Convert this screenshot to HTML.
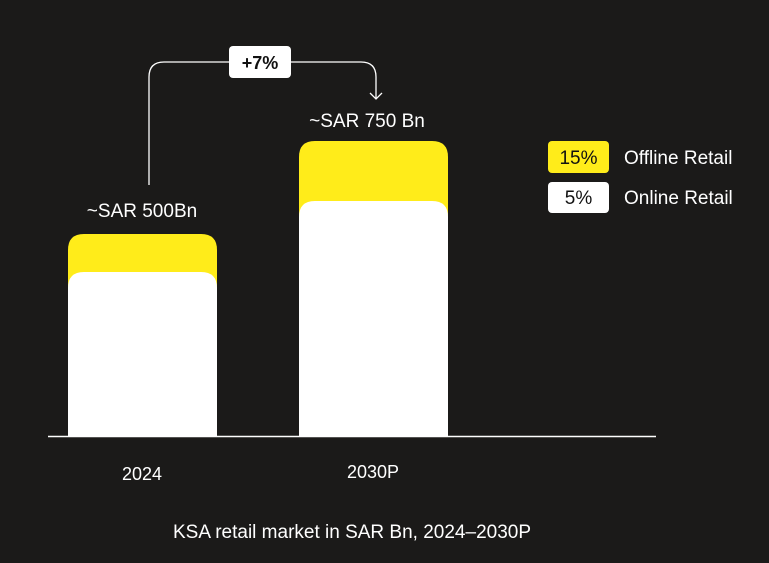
<!DOCTYPE html>
<html><head><style>
body{margin:0;background:#1b1a19;}
svg{display:block}
text{font-family:"Liberation Sans",sans-serif;}
</style></head><body>
<svg width="769" height="563" viewBox="0 0 769 563">
<rect width="769" height="563" fill="#1b1a19"/>
<path d="M68 436 V250 Q68 234 84 234 H201 Q217 234 217 250 V436 Z" fill="#ffec1a"/>
<path d="M68 436 V288 Q68 272 84 272 H201 Q217 272 217 288 V436 Z" fill="#fff"/>
<path d="M299 436 V157 Q299 141 315 141 H432 Q448 141 448 157 V436 Z" fill="#ffec1a"/>
<path d="M299 436 V217 Q299 201 315 201 H432 Q448 201 448 217 V436 Z" fill="#fff"/>
<line x1="48" y1="436.5" x2="656" y2="436.5" stroke="#fff" stroke-width="1.5"/>
<path d="M149 185 V77 Q149 62 164 62 H229 M291 62 H361 Q376 62 376 77 V99" fill="none" stroke="#fff" stroke-width="1.3"/>
<path d="M370 93 L376 99 L382 93" fill="none" stroke="#fff" stroke-width="1.3"/>
<rect x="229" y="46" width="62" height="32" rx="4" fill="#fff"/>
<text x="260" y="69" font-size="18" font-weight="bold" text-anchor="middle" fill="#111">+7%</text>
<text x="142" y="217" font-size="19" text-anchor="middle" fill="#fff">~SAR 500Bn</text>
<text x="367" y="127" font-size="19" text-anchor="middle" fill="#fff">~SAR 750 Bn</text>
<rect x="548" y="141" width="61" height="32" rx="4" fill="#ffec1a"/>
<text x="578.5" y="164" font-size="19" text-anchor="middle" fill="#111">15%</text>
<text x="624" y="164" font-size="19" fill="#fff">Offline Retail</text>
<rect x="548" y="182" width="61" height="31" rx="4" fill="#fff"/>
<text x="578.5" y="204" font-size="19" text-anchor="middle" fill="#111">5%</text>
<text x="624" y="204" font-size="19" fill="#fff">Online Retail</text>
<text x="142" y="480" font-size="18" text-anchor="middle" fill="#fff">2024</text>
<text x="373" y="478" font-size="18" text-anchor="middle" fill="#fff">2030P</text>
<text x="352" y="538" font-size="19" text-anchor="middle" fill="#fff">KSA retail market in SAR Bn, 2024–2030P</text>
</svg>
</body></html>
